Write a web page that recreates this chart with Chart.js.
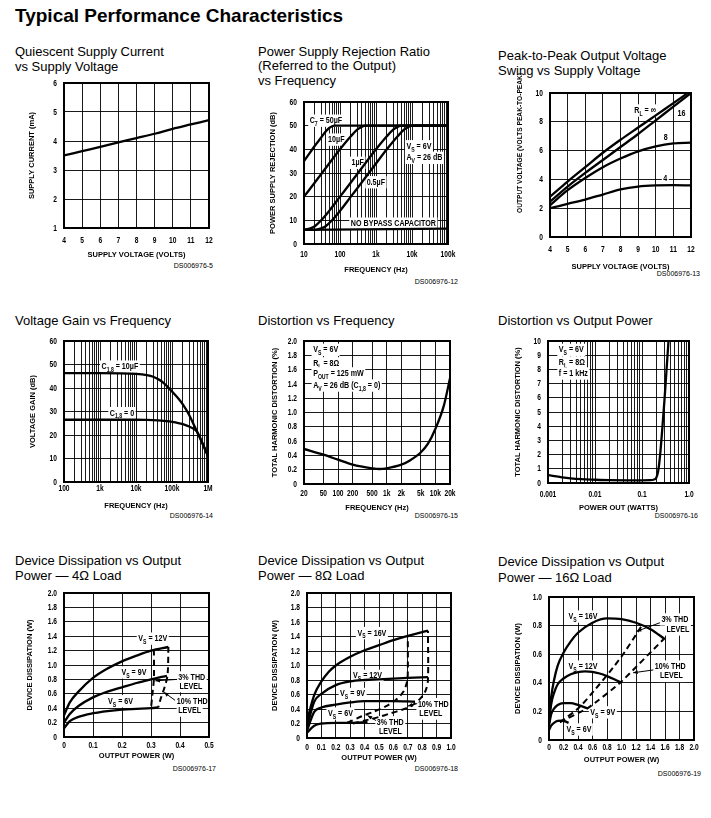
<!DOCTYPE html>
<html>
<head>
<meta charset="utf-8">
<script src="https://cdn.jsdelivr.net/npm/chart.js@4.4.0/dist/chart.umd.min.js"></script>
<style>
  body { margin: 0; background: #fff; width: 711px; height: 818px; position: relative; overflow: hidden;
         font-family: "Liberation Sans", Arial, sans-serif; color: #000; }
  .t { position: absolute; white-space: nowrap; }
  .main { left: 15px; top: 5px; font-size: 19px; line-height: 22px; font-weight: bold; }
  .head { font-size: 13px; line-height: 15px; }
  .ds { font-size: 7px; line-height: 8px; }
  canvas { position: absolute; }
</style>
</head>
<body>
<div class="t main">Typical Performance Characteristics</div>

<div class="t head" style="left:15px;top:44px">Quiescent Supply Current<br>vs Supply Voltage</div>
<div class="t head" style="left:258px;top:44.5px;line-height:14.5px">Power Supply Rejection Ratio<br>(Referred to the Output)<br>vs Frequency</div>
<div class="t head" style="left:498px;top:47.5px">Peak-to-Peak Output Voltage<br>Swing vs Supply Voltage</div>
<div class="t head" style="left:15px;top:312.5px">Voltage Gain vs Frequency</div>
<div class="t head" style="left:258px;top:312.5px">Distortion vs Frequency</div>
<div class="t head" style="left:498px;top:312.5px">Distortion vs Output Power</div>
<div class="t head" style="left:15px;top:552.5px">Device Dissipation vs Output<br>Power — 4Ω Load</div>
<div class="t head" style="left:258px;top:552.5px">Device Dissipation vs Output<br>Power — 8Ω Load</div>
<div class="t head" style="left:498px;top:553.5px;line-height:16px">Device Dissipation vs Output<br>Power — 16Ω Load</div>

<div class="t ds" style="right:498px;top:262px">DS006976-5</div>
<div class="t ds" style="right:253px;top:278px">DS006976-12</div>
<div class="t ds" style="right:11px;top:270px">DS006976-13</div>
<div class="t ds" style="right:498px;top:512px">DS006976-14</div>
<div class="t ds" style="right:253px;top:512px">DS006976-15</div>
<div class="t ds" style="right:13px;top:512px">DS006976-16</div>
<div class="t ds" style="right:495px;top:765px">DS006976-17</div>
<div class="t ds" style="right:253px;top:765px">DS006976-18</div>
<div class="t ds" style="right:10px;top:770px">DS006976-19</div>

<script>
// ---- quiescent supply current
const qVolts = [4, 5, 6, 7, 8, 9, 10, 11, 12];
const qCurrent = [3.5, 3.65, 3.8, 3.95, 4.1, 4.25, 4.42, 4.57, 4.72];

// ---- PSRR vs frequency
const psrr50uF_f = [10, 15, 20, 30, 40, 50, 70, 100, 1000, 100000];
const psrr50uF = [35, 38.8, 41.5, 45, 47.5, 49, 50, 50, 50, 50];
const psrr10uF_f = [10, 20, 50, 100, 200, 300, 400, 500, 700, 1000, 100000];
const psrr10uF = [20, 26, 34, 40, 45.5, 48.3, 49.5, 50, 50, 50, 50];
const psrr1uF_f = [10, 15, 20, 30, 50, 100, 200, 500, 1000, 2000, 3000, 4000, 5000, 7000, 100000];
const psrr1uF = [6, 6.6, 7.5, 10, 14, 20, 26, 34, 40, 45.5, 48.3, 49.5, 50, 50, 50];
const psrr05uF_f = [10, 20, 30, 40, 60, 100, 200, 400, 1000, 2000, 4000, 6000, 8000, 10000, 100000];
const psrr05uF = [6, 6, 6.6, 7.5, 10, 14, 20, 26, 34, 40, 45.5, 48.3, 49.5, 50, 50];
const psrrNoCap_f = [10, 100000];
const psrrNoCap = [6, 6.5];

// ---- peak-to-peak output swing
const ppVolts = [4, 5, 6, 7, 8, 9, 10, 11, 12];
const ppInf = [2.8, 3.85, 4.85, 5.85, 6.75, 7.6, 8.45, 9.3, 10.15];
const pp16 = [2.45, 3.5, 4.45, 5.35, 6.25, 7.15, 8.1, 9.05, 10];
const pp8 = [2.2, 3.25, 4.1, 4.85, 5.45, 5.95, 6.3, 6.5, 6.55];
const pp4 = [2.0, 2.3, 2.6, 2.95, 3.3, 3.5, 3.58, 3.6, 3.58];

// ---- voltage gain vs frequency
const gainFreq = [100, 1000, 10000, 20000, 30000, 50000, 70000, 100000, 150000, 200000, 300000, 400000, 500000, 700000, 1000000];
const gain10uF = [46.3, 46.3, 46, 45.5, 44.8, 43, 41, 38.5, 35.5, 33, 28.5, 24.5, 21.3, 16.5, 11];
const gain0 = [26.5, 26.5, 26.5, 26.4, 26.3, 26.1, 25.9, 25.6, 25.1, 24.6, 23.6, 22.6, 21.3, 16.5, 11];

// ---- THD vs frequency
const thdFreq = [20, 50, 100, 200, 500, 700, 1000, 2000, 3000, 5000, 7000, 10000, 15000, 20000];
const thdVsFreq = [0.49, 0.41, 0.34, 0.27, 0.22, 0.21, 0.22, 0.27, 0.33, 0.44, 0.56, 0.77, 1.1, 1.48];

// ---- THD vs output power
const thdPower = [0.001, 0.002, 0.003, 0.005, 0.01, 0.02, 0.05, 0.1, 0.15, 0.18, 0.2, 0.22, 0.24, 0.27, 0.3, 0.33, 0.37];
const thdVsPower = [0.55, 0.4, 0.33, 0.27, 0.23, 0.2, 0.19, 0.19, 0.2, 0.25, 0.35, 0.8, 1.8, 3.8, 5.8, 7.8, 10.2];

// ---- dissipation, 4 ohm
const d4Pow12 = [0, 0.02, 0.05, 0.1, 0.15, 0.2, 0.25, 0.3, 0.36];
const d4Vs12 = [0.3, 0.48, 0.63, 0.82, 0.95, 1.05, 1.13, 1.2, 1.25];
const d4Pow9 = [0, 0.02, 0.05, 0.1, 0.15, 0.2, 0.25, 0.3, 0.355];
const d4Vs9 = [0.2, 0.32, 0.43, 0.55, 0.63, 0.69, 0.75, 0.8, 0.85];
const d4Pow6 = [0, 0.02, 0.05, 0.1, 0.15, 0.2, 0.25, 0.3, 0.325];
const d4Vs6 = [0.12, 0.22, 0.28, 0.33, 0.36, 0.38, 0.39, 0.4, 0.41];
const d4Thd3_p = [0.31, 0.31, 0.305, 0.30];
const d4Thd3 = [1.21, 0.81, 0.6, 0.4];
const d4Thd10_p = [0.36, 0.357, 0.346, 0.334, 0.325];
const d4Thd10 = [1.25, 0.86, 0.68, 0.54, 0.41];

// ---- dissipation, 8 ohm
const d8Pow16 = [0, 0.05, 0.1, 0.15, 0.2, 0.3, 0.4, 0.5, 0.6, 0.7, 0.8, 0.84];
const d8Vs16 = [0.24, 0.59, 0.78, 0.91, 1.0, 1.12, 1.21, 1.28, 1.35, 1.41, 1.46, 1.48];
const d8Pow12 = [0, 0.05, 0.1, 0.2, 0.3, 0.4, 0.5, 0.6, 0.7, 0.84];
const d8Vs12 = [0.15, 0.5, 0.61, 0.73, 0.78, 0.8, 0.81, 0.82, 0.83, 0.84];
const d8Pow9 = [0, 0.05, 0.1, 0.2, 0.3, 0.4, 0.5, 0.6, 0.75];
const d8Vs9 = [0.1, 0.36, 0.42, 0.46, 0.49, 0.51, 0.51, 0.51, 0.5];
const d8Pow6 = [0, 0.05, 0.1, 0.2, 0.3, 0.42];
const d8Vs6 = [0.07, 0.17, 0.2, 0.21, 0.21, 0.22];
const d8Thd3_p = [0.28, 0.38, 0.46, 0.55, 0.62, 0.67, 0.695, 0.7, 0.7];
const d8Thd3 = [0.21, 0.3, 0.36, 0.44, 0.53, 0.64, 0.78, 0.9, 1.41];
const d8Thd10_p = [0.32, 0.42, 0.5, 0.58, 0.66, 0.73, 0.79, 0.825, 0.84, 0.84];
const d8Thd10 = [0.2, 0.25, 0.29, 0.34, 0.39, 0.45, 0.55, 0.66, 0.8, 1.48];

// ---- dissipation, 16 ohm
const d16Pow16 = [0, 0.03, 0.07, 0.12, 0.2, 0.3, 0.4, 0.6, 0.8, 1.0, 1.2, 1.4, 1.6];
const d16Vs16 = [0.14, 0.3, 0.42, 0.52, 0.61, 0.69, 0.75, 0.82, 0.85, 0.845, 0.82, 0.775, 0.705];
const d16Pow12 = [0, 0.03, 0.07, 0.12, 0.2, 0.3, 0.4, 0.5, 0.6, 0.7, 0.8, 0.9, 1.0];
const d16Vs12 = [0.12, 0.25, 0.33, 0.39, 0.43, 0.46, 0.475, 0.48, 0.477, 0.465, 0.447, 0.425, 0.4];
const d16Pow9 = [0, 0.03, 0.07, 0.12, 0.2, 0.3, 0.4, 0.54];
const d16Vs9 = [0.1, 0.18, 0.22, 0.245, 0.258, 0.258, 0.245, 0.22];
const d16Pow6 = [0, 0.03, 0.07, 0.12, 0.17, 0.22, 0.27];
const d16Vs6 = [0.07, 0.1, 0.12, 0.133, 0.135, 0.13, 0.12];
const d16Thd3_p = [0.15, 0.4, 0.63, 0.89, 1.05, 1.23, 1.3];
const d16Thd3 = [0.125, 0.22, 0.35, 0.51, 0.62, 0.76, 0.815];
const d16Thd10_p = [0.15, 0.54, 0.98, 1.58];
const d16Thd10 = [0.125, 0.225, 0.4, 0.705];

// ---- tick values and labels
const voltTicks = [4, 5, 6, 7, 8, 9, 10, 11, 12];
const voltLabels = ['4', '5', '6', '7', '8', '9', '10', '11', '12'];
const qCurTicks = [1, 2, 3, 4, 5, 6];
const qCurLabels = ['1', '2', '3', '4', '5', '6'];
const dbTicks = [0, 10, 20, 30, 40, 50, 60];
const dbLabels = ['0', '10', '20', '30', '40', '50', '60'];
const psrrFreqTicks = [10, 100, 1000, 10000, 100000];
const psrrFreqLabels = ['10', '100', '1k', '10k', '100k'];
const ppTicks = [0, 2, 4, 6, 8, 10];
const ppLabels = ['0', '2', '4', '6', '8', '10'];
const gainFreqTicks = [100, 1000, 10000, 100000, 1000000];
const gainFreqLabels = ['100', '1k', '10k', '100k', '1M'];
const thdFreqTicks = [20, 50, 100, 200, 500, 1000, 2000, 5000, 10000, 20000];
const thdFreqLabels = ['20', '50', '100', '200', '500', '1k', '2k', '5k', '10k', '20k'];
const twoTicks = [0, 0.2, 0.4, 0.6, 0.8, 1.0, 1.2, 1.4, 1.6, 1.8, 2.0];
const twoLabels = ['0', '0.2', '0.4', '0.6', '0.8', '1.0', '1.2', '1.4', '1.6', '1.8', '2.0'];
const thdPctTicks = [0, 1, 2, 3, 4, 5, 6, 7, 8, 9, 10];
const thdPctLabels = ['0', '1', '2', '3', '4', '5', '6', '7', '8', '9', '10'];
const powTicks = [0.001, 0.01, 0.1, 1];
const powLabels = ['0.001', '0.01', '0.1', '1.0'];
const p4Ticks = [0, 0.1, 0.2, 0.3, 0.4, 0.5];
const p4Labels = ['0', '0.1', '0.2', '0.3', '0.4', '0.5'];
const p8Ticks = [0, 0.1, 0.2, 0.3, 0.4, 0.5, 0.6, 0.7, 0.8, 0.9, 1.0];
const p8Labels = ['0', '0.1', '0.2', '0.3', '0.4', '0.5', '0.6', '0.7', '0.8', '0.9', '1.0'];
const oneTicks = [0, 0.2, 0.4, 0.6, 0.8, 1.0];
const oneLabels = ['0', '0.2', '0.4', '0.6', '0.8', '1.0'];

const SANS = '"Liberation Sans", Arial, sans-serif';
const WY = 44, HX = 36, PT = 26, PR = 16;
const TICK_SQ = 0.7;   // horizontal squeeze of the condensed tick digits
const NOTE_SQ = 0.75;  // same for the notes inside the plots

// every 1..9 x decade line of a log grid
function logLines(lo, hi) {
  const out = [];
  for (let e = Math.floor(Math.log10(lo)); e <= Math.ceil(Math.log10(hi)); e++) {
    for (let m = 1; m <= 9; m++) {
      const v = +(m * Math.pow(10, e)).toPrecision(6);
      if (v >= lo * 0.999 && v <= hi * 1.001) out.push(v);
    }
  }
  return out;
}

function curve(xs, ys, extra) {
  return Object.assign({
    data: xs.map((x, i) => ({ x: x, y: ys[i] })),
    borderColor: '#000', borderWidth: 2.3, pointRadius: 0, fill: false,
    cubicInterpolationMode: 'monotone'
  }, extra || {});
}
const DASH = { borderDash: [6, 4], borderWidth: 2, cubicInterpolationMode: 'default', tension: 0.3 };

function scaleCfg(s, isX) {
  return {
    type: s.type || 'linear', min: s.min, max: s.max,
    afterBuildTicks: sc => { sc.ticks = (s.grid || s.ticks).map(v => ({ value: v })); },
    afterFit: sc => { if (isX) sc.height = HX; else sc.width = WY; },
    grid: { color: '#000', lineWidth: 0.9, drawTicks: false },
    border: { display: false },
    ticks: { display: false }
  };
}

function squeezed(ctx, s, x, y, align, sq) {
  ctx.save();
  ctx.translate(x, y);
  ctx.scale(sq, 1);
  ctx.textAlign = align;
  ctx.fillText(s, 0, 0);
  ctx.restore();
}

// text with _{sub} parts
function richText(ctx, text, x, y, size) {
  const parts = [];
  const re = /_\{([^}]*)\}/g;
  let last = 0, m;
  while ((m = re.exec(text))) {
    if (m.index > last) parts.push({ s: text.slice(last, m.index), sub: false });
    parts.push({ s: m[1], sub: true });
    last = re.lastIndex;
  }
  if (last < text.length) parts.push({ s: text.slice(last), sub: false });
  const big = 'bold ' + size + 'px ' + SANS, small = 'bold ' + (size * 0.72) + 'px ' + SANS;
  let w = 0;
  parts.forEach(p => { ctx.font = p.sub ? small : big; p.w = ctx.measureText(p.s).width; w += p.w; });
  ctx.fillStyle = '#fff';
  ctx.fillRect(x - 1.5, y - size * 0.55, w * NOTE_SQ + 3, size * 1.3);
  ctx.save();
  ctx.translate(x, y);
  ctx.scale(NOTE_SQ, 1);
  ctx.fillStyle = '#000';
  ctx.textAlign = 'left';
  ctx.textBaseline = 'alphabetic';
  let cx = 0;
  const base = size * 0.36;
  parts.forEach(p => {
    ctx.font = p.sub ? small : big;
    ctx.fillText(p.s, cx, p.sub ? base + size * 0.3 : base);
    cx += p.w;
  });
  ctx.restore();
}

function arrow(ctx, x1, y1, x2, y2) {
  ctx.strokeStyle = '#000'; ctx.fillStyle = '#000'; ctx.lineWidth = 1;
  ctx.beginPath(); ctx.moveTo(x1, y1); ctx.lineTo(x2, y2); ctx.stroke();
  const a = Math.atan2(y2 - y1, x2 - x1), L = 5;
  ctx.beginPath();
  ctx.moveTo(x2, y2);
  ctx.lineTo(x2 - L * Math.cos(a - 0.4), y2 - L * Math.sin(a - 0.4));
  ctx.lineTo(x2 - L * Math.cos(a + 0.4), y2 - L * Math.sin(a + 0.4));
  ctx.closePath(); ctx.fill();
}

function makePlot(p) {
  const cv = document.createElement('canvas');
  cv.width = WY + p.w + PR;
  cv.height = PT + p.h + HX;
  cv.style.left = (p.left - WY) + 'px';
  cv.style.top = (p.top - PT) + 'px';
  document.body.appendChild(cv);

  const notes = {
    id: 'notes',
    beforeDatasetsDraw(chart) {
      const ctx = chart.ctx, sx = chart.scales.x, sy = chart.scales.y;
      ctx.save();
      (p.labels || []).forEach(l => richText(ctx, l.t, sx.getPixelForValue(l.x), sy.getPixelForValue(l.y), 9.5));
      ctx.restore();
    },
    afterDraw(chart) {
      const ctx = chart.ctx, a = chart.chartArea, sx = chart.scales.x, sy = chart.scales.y;
      ctx.save();
      (p.arrows || []).forEach(r => arrow(ctx, sx.getPixelForValue(r[0]), sy.getPixelForValue(r[1]),
                                              sx.getPixelForValue(r[2]), sy.getPixelForValue(r[3])));
      ctx.strokeStyle = '#000'; ctx.lineWidth = 2;
      ctx.strokeRect(a.left, a.top, a.right - a.left, a.bottom - a.top);

      // tick labels, placed by the chart's own scales
      ctx.fillStyle = '#000';
      ctx.font = 'bold 9.5px ' + SANS;
      ctx.textBaseline = 'middle';
      p.x.ticks.forEach((v, i) => squeezed(ctx, p.x.labels[i], sx.getPixelForValue(v), a.bottom + p.x.pad, 'center', TICK_SQ));
      p.y.ticks.forEach((v, i) => squeezed(ctx, p.y.labels[i], a.left - 7, sy.getPixelForValue(v), 'right', TICK_SQ));

      // axis titles
      ctx.font = 'bold 7.5px ' + SANS;
      ctx.textAlign = 'center';
      ctx.fillText(p.xTitle, (a.left + a.right) / 2, a.bottom + p.xOff);
      ctx.translate(a.left - p.yOff, (a.top + a.bottom) / 2 + (p.yShift || 0));
      ctx.rotate(-Math.PI / 2);
      ctx.fillText(p.yTitle, 0, 0, p.yMax || 400);
      ctx.restore();
    }
  };

  new Chart(cv, {
    type: 'line',
    data: { datasets: p.datasets },
    options: {
      responsive: false, animation: false,
      layout: { padding: { top: PT, right: PR, left: 0, bottom: 0 } },
      plugins: { legend: { display: false }, tooltip: { enabled: false } },
      scales: { x: scaleCfg(p.x, true), y: scaleCfg(p.y, false) }
    },
    plugins: [notes]
  });
}

// 1. Quiescent supply current
makePlot({
  left: 64, top: 83, w: 145, h: 145,
  x: { min: 4, max: 12, ticks: voltTicks, labels: voltLabels, pad: 12 },
  y: { min: 1, max: 6, ticks: qCurTicks, labels: qCurLabels },
  xTitle: 'SUPPLY VOLTAGE (VOLTS)', xOff: 27, yTitle: 'SUPPLY CURRENT (mA)', yOff: 32,
  datasets: [curve(qVolts, qCurrent)]
});

// 2. PSRR
makePlot({
  left: 304, top: 102, w: 144, h: 142,
  x: { type: 'logarithmic', min: 10, max: 100000, grid: logLines(10, 100000), ticks: psrrFreqTicks, labels: psrrFreqLabels, pad: 10 },
  y: { min: 0, max: 60, ticks: dbTicks, labels: dbLabels },
  xTitle: 'FREQUENCY (Hz)', xOff: 26, yTitle: 'POWER SUPPLY REJECTION (dB)', yOff: 31,
  datasets: [
    curve(psrr50uF_f, psrr50uF), curve(psrr10uF_f, psrr10uF), curve(psrr1uF_f, psrr1uF),
    curve(psrr05uF_f, psrr05uF), curve(psrrNoCap_f, psrrNoCap)
  ],
  labels: [
    { x: 14.4, y: 52.5, t: 'C_{7} = 50µF' },
    { x: 46.7, y: 44.5, t: '10µF' },
    { x: 209, y: 34.7, t: '1µF' },
    { x: 550, y: 26.5, t: '0.5µF' },
    { x: 7000, y: 41.7, t: 'V_{S} = 6V' },
    { x: 7000, y: 36.8, t: 'A_{V} = 26 dB' },
    { x: 200, y: 9, t: 'NO BYPASS CAPACITOR' }
  ]
});

// 3. Peak-to-peak output voltage swing
makePlot({
  left: 550, top: 93, w: 141, h: 144,
  x: { min: 4, max: 12, ticks: voltTicks, labels: voltLabels, pad: 12 },
  y: { min: 0, max: 10, ticks: ppTicks, labels: ppLabels },
  xTitle: 'SUPPLY VOLTAGE (VOLTS)', xOff: 30, yTitle: 'OUTPUT VOLTAGE (VOLTS PEAK-TO-PEAK)', yOff: 30, yShift: -22, yMax: 140,
  datasets: [curve(ppVolts, ppInf), curve(ppVolts, pp16), curve(ppVolts, pp8), curve(ppVolts, pp4)],
  labels: [
    { x: 8.78, y: 8.85, t: 'R_{L} = ∞' },
    { x: 11.24, y: 8.65, t: '16' },
    { x: 10.45, y: 6.98, t: '8' },
    { x: 10.43, y: 4.1, t: '4' }
  ]
});

// 4. Voltage gain
makePlot({
  left: 64, top: 341, w: 144, h: 141,
  x: { type: 'logarithmic', min: 100, max: 1000000, grid: logLines(100, 1000000), ticks: gainFreqTicks, labels: gainFreqLabels, pad: 6.5 },
  y: { min: 0, max: 60, ticks: dbTicks, labels: dbLabels },
  xTitle: 'FREQUENCY (Hz)', xOff: 24, yTitle: 'VOLTAGE GAIN (dB)', yOff: 31,
  datasets: [curve(gainFreq, gain10uF), curve(gainFreq, gain0)],
  labels: [
    { x: 1100, y: 49.5, t: 'C_{1,8} = 10µF' },
    { x: 1870, y: 29.7, t: 'C_{1,8} = 0' }
  ]
});

// 5. Distortion vs frequency
makePlot({
  left: 304, top: 341, w: 146, h: 143,
  x: { type: 'logarithmic', min: 20, max: 20000, ticks: thdFreqTicks, labels: thdFreqLabels, pad: 9 },
  y: { min: 0, max: 2, ticks: twoTicks, labels: twoLabels },
  xTitle: 'FREQUENCY (Hz)', xOff: 24, yTitle: 'TOTAL HARMONIC DISTORTION (%)', yOff: 29,
  datasets: [curve(thdFreq, thdVsFreq)],
  labels: [
    { x: 30.8, y: 1.89, t: 'V_{S} = 6V' },
    { x: 30.8, y: 1.70, t: 'R_{L} = 8Ω' },
    { x: 30.8, y: 1.56, t: 'P_{OUT} = 125 mW' },
    { x: 30.8, y: 1.39, t: 'A_{V} = 26 dB (C_{1,8} = 0)' }
  ]
});

// 6. Distortion vs output power
makePlot({
  left: 548, top: 341, w: 141, h: 142,
  x: { type: 'logarithmic', min: 0.001, max: 1, grid: logLines(0.001, 1), ticks: powTicks, labels: powLabels, pad: 11 },
  y: { min: 0, max: 10, ticks: thdPctTicks, labels: thdPctLabels },
  xTitle: 'POWER OUT (WATTS)', xOff: 25, yTitle: 'TOTAL HARMONIC DISTORTION (%)', yOff: 30,
  datasets: [curve(thdPower, thdVsPower)],
  labels: [
    { x: 0.0017, y: 9.44, t: 'V_{S} = 6V' },
    { x: 0.0017, y: 8.55, t: 'R_{L} = 8Ω' },
    { x: 0.0017, y: 7.78, t: 'f = 1 kHz' }
  ]
});

// 7. Dissipation 4 ohm
makePlot({
  left: 64, top: 593, w: 145, h: 144,
  x: { min: 0, max: 0.5, ticks: p4Ticks, labels: p4Labels, pad: 8 },
  y: { min: 0, max: 2, ticks: twoTicks, labels: twoLabels },
  xTitle: 'OUTPUT POWER (W)', xOff: 19, yTitle: 'DEVICE DISSIPATION (W)', yOff: 34,
  datasets: [
    curve(d4Pow12, d4Vs12), curve(d4Pow9, d4Vs9), curve(d4Pow6, d4Vs6),
    curve(d4Thd3_p, d4Thd3, DASH), curve(d4Thd10_p, d4Thd10, DASH)
  ],
  labels: [
    { x: 0.256, y: 1.38, t: 'V_{S} = 12V' },
    { x: 0.198, y: 0.91, t: 'V_{S} = 9V' },
    { x: 0.152, y: 0.51, t: 'V_{S} = 6V' },
    { x: 0.394, y: 0.84, t: '3% THD' },
    { x: 0.398, y: 0.72, t: 'LEVEL' },
    { x: 0.389, y: 0.50, t: '10% THD' },
    { x: 0.394, y: 0.38, t: 'LEVEL' }
  ],
  arrows: [[0.39, 0.80, 0.315, 0.78], [0.383, 0.51, 0.345, 0.62]]
});

// 8. Dissipation 8 ohm
makePlot({
  left: 307, top: 593, w: 144, h: 145,
  x: { min: 0, max: 1, ticks: p8Ticks, labels: p8Labels, pad: 9 },
  y: { min: 0, max: 2, ticks: twoTicks, labels: twoLabels },
  xTitle: 'OUTPUT POWER (W)', xOff: 20, yTitle: 'DEVICE DISSIPATION (W)', yOff: 32,
  datasets: [
    curve(d8Pow16, d8Vs16), curve(d8Pow12, d8Vs12), curve(d8Pow9, d8Vs9), curve(d8Pow6, d8Vs6),
    curve(d8Thd3_p, d8Thd3, DASH), curve(d8Thd10_p, d8Thd10, DASH)
  ],
  labels: [
    { x: 0.35, y: 1.46, t: 'V_{S} = 16V' },
    { x: 0.32, y: 0.87, t: 'V_{S} = 12V' },
    { x: 0.23, y: 0.62, t: 'V_{S} = 9V' },
    { x: 0.145, y: 0.35, t: 'V_{S} = 6V' },
    { x: 0.77, y: 0.48, t: '10% THD' },
    { x: 0.78, y: 0.35, t: 'LEVEL' },
    { x: 0.485, y: 0.23, t: '3% THD' },
    { x: 0.5, y: 0.1, t: 'LEVEL' }
  ],
  arrows: [[0.765, 0.475, 0.7, 0.44], [0.48, 0.24, 0.42, 0.31]]
});

// 9. Dissipation 16 ohm
makePlot({
  left: 549, top: 597, w: 145, h: 143,
  x: { min: 0, max: 2, ticks: twoTicks, labels: twoLabels, pad: 7 },
  y: { min: 0, max: 1, ticks: oneTicks, labels: oneLabels },
  xTitle: 'OUTPUT POWER (W)', xOff: 20, yTitle: 'DEVICE DISSIPATION (W)', yOff: 31,
  datasets: [
    curve(d16Pow16, d16Vs16), curve(d16Pow12, d16Vs12), curve(d16Pow9, d16Vs9), curve(d16Pow6, d16Vs6),
    curve(d16Thd3_p, d16Thd3, DASH), curve(d16Thd10_p, d16Thd10, Object.assign({}, DASH, { tension: 0.15 }))
  ],
  labels: [
    { x: 0.27, y: 0.87, t: 'V_{S} = 16V' },
    { x: 0.27, y: 0.52, t: 'V_{S} = 12V' },
    { x: 0.57, y: 0.20, t: 'V_{S} = 9V' },
    { x: 0.24, y: 0.08, t: 'V_{S} = 6V' },
    { x: 1.55, y: 0.85, t: '3% THD' },
    { x: 1.62, y: 0.78, t: 'LEVEL' },
    { x: 1.46, y: 0.52, t: '10% THD' },
    { x: 1.53, y: 0.455, t: 'LEVEL' }
  ],
  arrows: [[1.53, 0.82, 1.21, 0.76], [1.44, 0.49, 1.16, 0.47]]
});
</script>
</body>
</html>
